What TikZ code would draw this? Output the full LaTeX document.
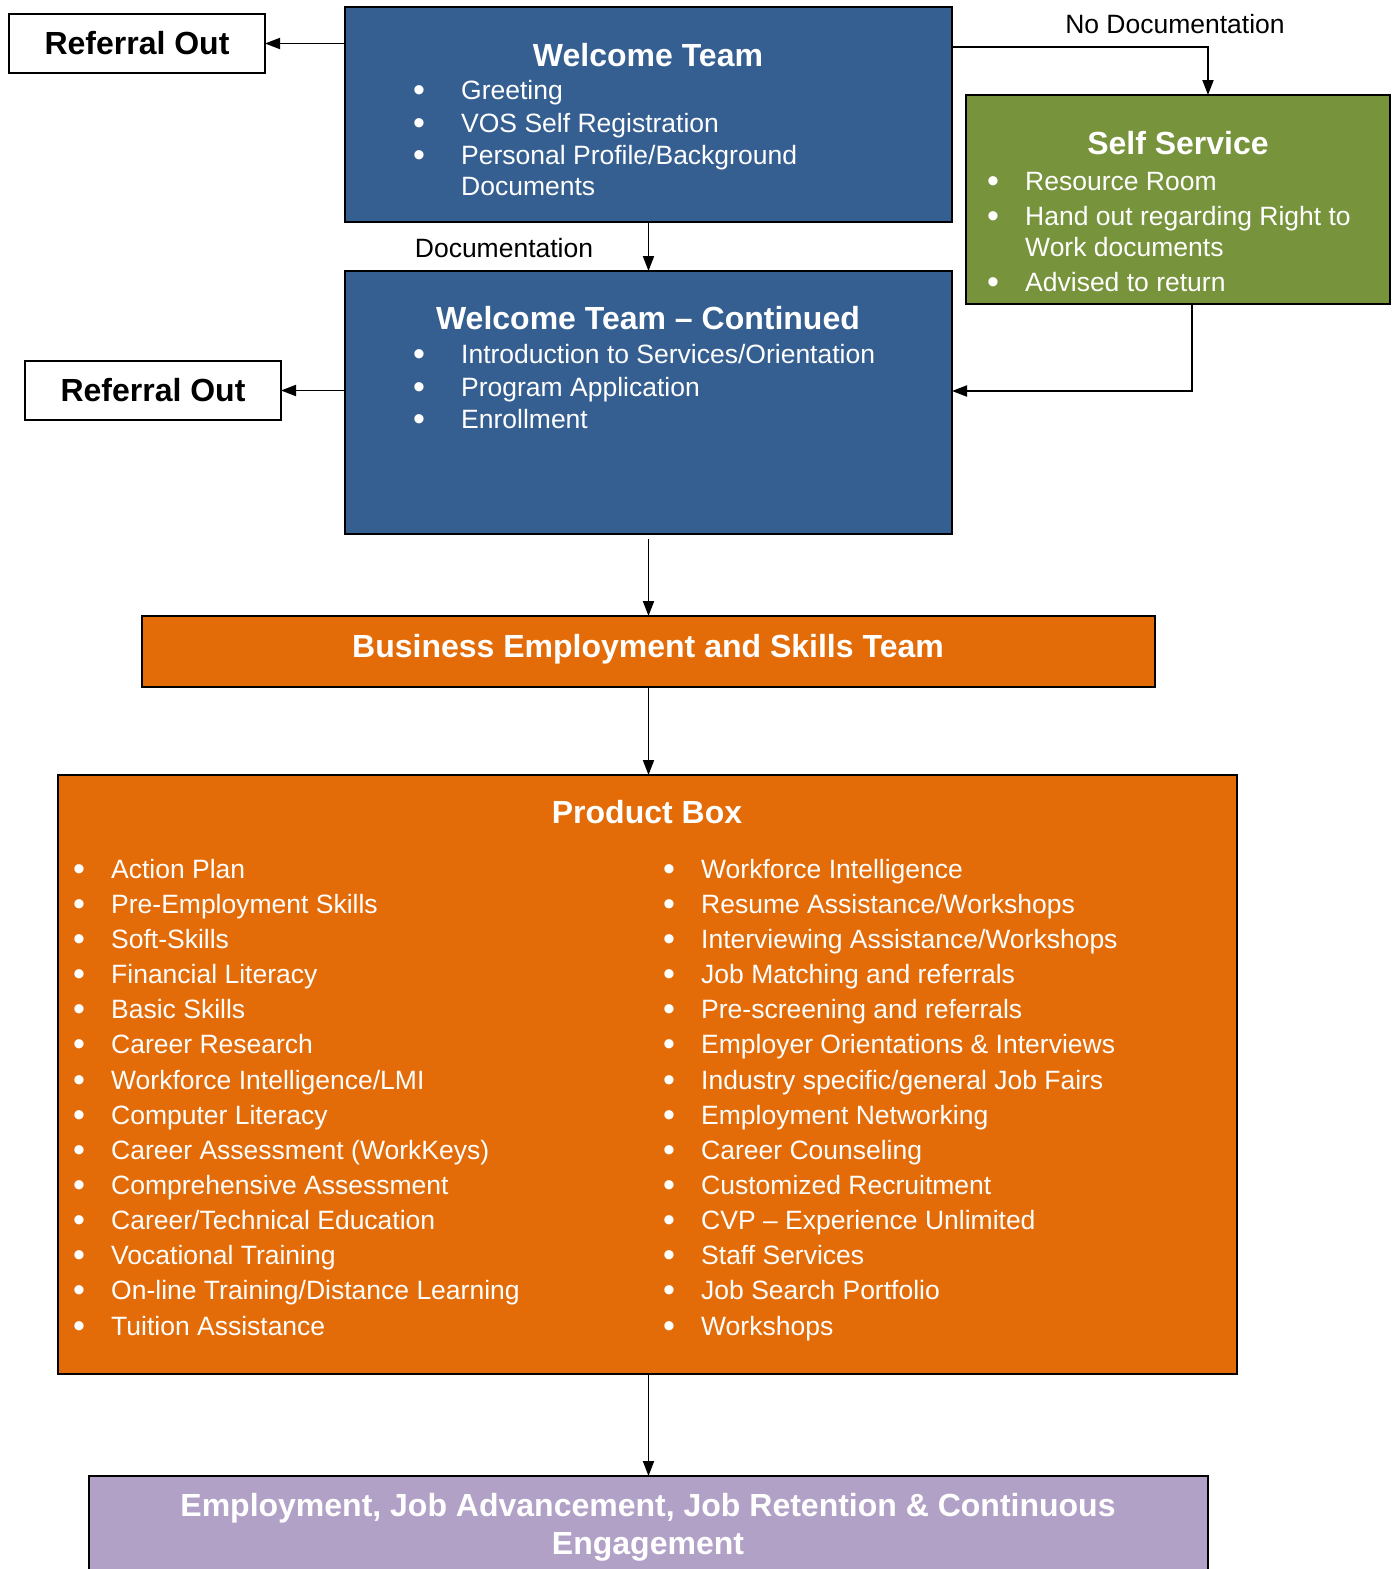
\documentclass[tikz,border=0pt]{standalone}
\usepackage{fontspec}
\setmainfont{Liberation Sans}
\usetikzlibrary{arrows.meta}
\definecolor{wtblue}{RGB}{54,95,145}
\definecolor{ssgreen}{RGB}{119,147,60}
\definecolor{beorange}{RGB}{227,108,9}
\definecolor{endpurple}{RGB}{178,161,199}
\tikzset{
 box/.style={draw=black, line width=2.5pt, anchor=north west, inner sep=0pt, outer sep=0pt},
 ttl/.style={font=\fontsize{32}{38}\selectfont\bfseries, text=white, anchor=mid, inner sep=0pt, yshift=-8.5pt},
 itm/.style={font=\fontsize{26.5}{32}\selectfont, text=white, anchor=mid west, inner sep=0pt, yshift=-7pt},
 bul/.style={font=\fontsize{34}{32}\selectfont, text=white, anchor=mid, inner sep=0pt, yshift=-9pt},
 lbl/.style={font=\fontsize{26.5}{32}\selectfont, anchor=mid, inner sep=0pt, yshift=-7pt},
 arr/.style={line width=1.9pt, -{Triangle[length=15pt,width=11pt]}},
}
\begin{document}
\begin{tikzpicture}[x=1pt,y=1pt]
\useasboundingbox (0,0) rectangle (1398,-1569);
\clip (0,0) rectangle (1398,-1569);
\fill[white] (0,0) rectangle (1398,-1569);

% boxes
\node[box, fill=white, minimum width=256pt, minimum height=59pt, font=\fontsize{32}{38}\selectfont\bfseries] (ro1) at (9,-14) {Referral Out};
\node[box, fill=white, minimum width=256pt, minimum height=59pt, font=\fontsize{32}{38}\selectfont\bfseries] (ro2) at (25,-361) {Referral Out};
\node[box, fill=wtblue, minimum width=607pt, minimum height=215pt] (wt) at (345,-7) {};
\node[box, fill=wtblue, minimum width=607pt, minimum height=263pt] (wtc) at (345,-271) {};
\node[box, fill=ssgreen, minimum width=424pt, minimum height=209pt] (ss) at (966,-95) {};
\node[box, fill=beorange, minimum width=1013pt, minimum height=71pt] (best) at (142,-616) {};
\node[box, fill=beorange, minimum width=1179pt, minimum height=599pt] (pb) at (58,-775) {};
\node[box, fill=endpurple, minimum width=1119pt, minimum height=130pt] (endb) at (89,-1476) {};

% titles
\node[ttl] (wtt) at (648,-55) {Welcome Team};
\node[ttl] (wtct) at (648,-318) {Welcome Team -- Continued};
\node[ttl] (sst) at (1178,-143) {Self Service};
\node[ttl] (bestt) at (648,-646) {Business Employment and Skills Team};
\node[ttl] (pbt) at (647,-812) {Product Box};
\node[ttl, align=center, anchor=center, yshift=5pt] (endt) at (648,-1524) {Employment, Job Advancement, Job Retention \& Continuous\\Engagement};

% Welcome Team items
\node[bul] (wtb1) at (419,-90) {\textbullet};
\node[itm] (wti1) at (461,-90) {Greeting};
\node[bul] (wtb2) at (419,-123) {\textbullet};
\node[itm] (wti2) at (461,-123) {VOS Self Registration};
\node[bul] (wtb3) at (419,-155) {\textbullet};
\node[itm] (wti3) at (461,-155) {Personal Profile/Background};
\node[itm] (wti4) at (461,-186) {Documents};

% Welcome Team Continued items
\node[bul] (wcb1) at (419,-354) {\textbullet};
\node[itm] (wci1) at (461,-354) {Introduction to Services/Orientation};
\node[bul] (wcb2) at (419,-387) {\textbullet};
\node[itm] (wci2) at (461,-387) {Program Application};
\node[bul] (wcb3) at (419,-419) {\textbullet};
\node[itm] (wci3) at (461,-419) {Enrollment};

% Self Service items
\node[bul] (ssb1) at (993,-181) {\textbullet};
\node[itm] (ssi1) at (1025,-181) {Resource Room};
\node[bul] (ssb2) at (993,-216) {\textbullet};
\node[itm] (ssi2) at (1025,-216) {Hand out regarding Right to};
\node[itm] (ssi3) at (1025,-247) {Work documents};
\node[bul] (ssb4) at (993,-282) {\textbullet};
\node[itm] (ssi4) at (1025,-282) {Advised to return};

% Product box items
\foreach \t [count=\i] in {Action Plan, Pre-Employment Skills, Soft-Skills, Financial Literacy, Basic Skills, Career Research, Workforce Intelligence/LMI, Computer Literacy, Career Assessment (WorkKeys), Comprehensive Assessment, Career/Technical Education, Vocational Training, On-line Training/Distance Learning, Tuition Assistance}{
  \pgfmathsetmacro\yy{-868.5-35.15*(\i-1)}
  \node[bul] (plb\i) at (79,\yy) {\textbullet};
  \node[itm] (pli\i) at (111,\yy) {\t};
}
\foreach \t [count=\i] in {Workforce Intelligence, Resume Assistance/Workshops, Interviewing Assistance/Workshops, Job Matching and referrals, Pre-screening and referrals, Employer Orientations \& Interviews, Industry specific/general Job Fairs, Employment Networking, Career Counseling, Customized Recruitment, CVP -- Experience Unlimited, Staff Services, Job Search Portfolio, Workshops}{
  \pgfmathsetmacro\yy{-868.5-35.15*(\i-1)}
  \node[bul] (prb\i) at (669,\yy) {\textbullet};
  \node[itm] (pri\i) at (701,\yy) {\t};
}

% labels
\node[lbl] (ndl) at (1175,-24) {No Documentation};
\node[lbl] (dl) at (504,-248) {Documentation};

% connectors
\coordinate (ndturn) at (1208,-47);
\coordinate (ssturn) at (1192,-391);
\draw[arr] (wt.west |- ro1.east) -- (ro1.east);
\draw[arr] (wtc.west |- ro2.east) -- (ro2.east);
\draw[arr] (wt.east |- ndturn) -- (ndturn) -- (ss.north -| ndturn);
\draw[arr] (ss.south -| ssturn) -- (ssturn) -- (wtc.east |- ssturn);
\draw[arr] (wt.south) -- (wtc.north);
\draw[arr] ([yshift=-5pt]wtc.south) -- (best.north);
\draw[arr] (best.south) -- (best.south |- pb.north);
\draw[arr] (pb.south -| best.south) -- (best.south |- endb.north);
\end{tikzpicture}
\end{document}
